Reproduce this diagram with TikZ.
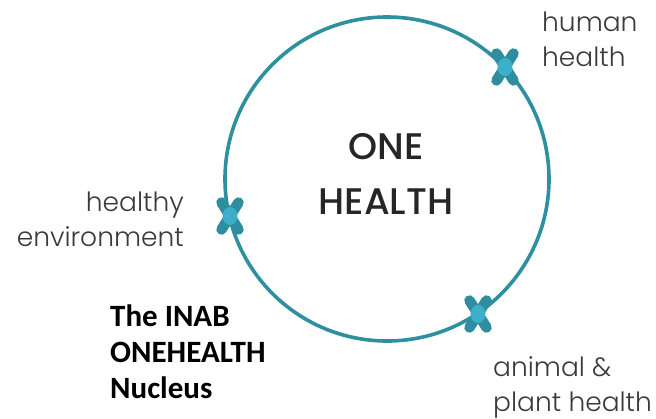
\documentclass[tikz,border=0pt]{standalone}
\usepackage{fontspec}
\setmainfont{Poppins}
\newfontfamily\lblfont{Poppins Light}
\newfontfamily\corefont{Poppins Medium}
\newfontfamily\nucfont{Carlito}
\usetikzlibrary{positioning}

\definecolor{ringteal}{HTML}{2E8FA0}
\definecolor{markdark}{HTML}{2E8E9F}
\definecolor{marklight}{HTML}{3BB0C8}
\definecolor{lblgray}{HTML}{3A3A3A}

\tikzset{
  ring/.style={draw=ringteal, line width=3.6pt},
  topic/.style={font=\lblfont\fontsize{26.5}{35}\selectfont, text=lblgray, inner sep=0pt},
  core/.style={font=\corefont\fontsize{37}{55}\selectfont, text=black!85, align=center, inner sep=0pt},
  nucleus/.style={font=\nucfont\bfseries\fontsize{31}{36}\selectfont, align=left, inner sep=0pt},
  marker/.pic={
    \draw[markdark, line width=10.5pt, line cap=round] (-8.5,-13.5) -- (8.5,13.5) (8.5,-13.5) -- (-8.5,13.5);
    \fill[marklight] (0,0) ellipse (7.5pt and 9pt);
  }
}

\begin{document}
\begin{tikzpicture}[x=1pt,y=-1pt]
\useasboundingbox (0,0) rectangle (656,418);

% the ring
\draw[ring] (387,179) circle (162pt);

% markers on the ring
\pic at (505,67) {marker};
\pic at (230,216) {marker};
\pic at (478,314) {marker};

% centre
\node[core] (onehealth) at (386,174) {ONE\\HEALTH};

% topics
\node[topic, anchor=north west, align=left] (human) at (542,12) {human\\health};
\node[topic, anchor=north east, align=right] (environment) at (184,192) {healthy\\environment};
\node[topic, anchor=north west, align=left] (animal) at (493,356) {animal \&\\plant health};

% nucleus
\node[nucleus, anchor=north west] (inab) at (110,305) {The INAB\\ONEHEALTH\\Nucleus};
\end{tikzpicture}
\end{document}
